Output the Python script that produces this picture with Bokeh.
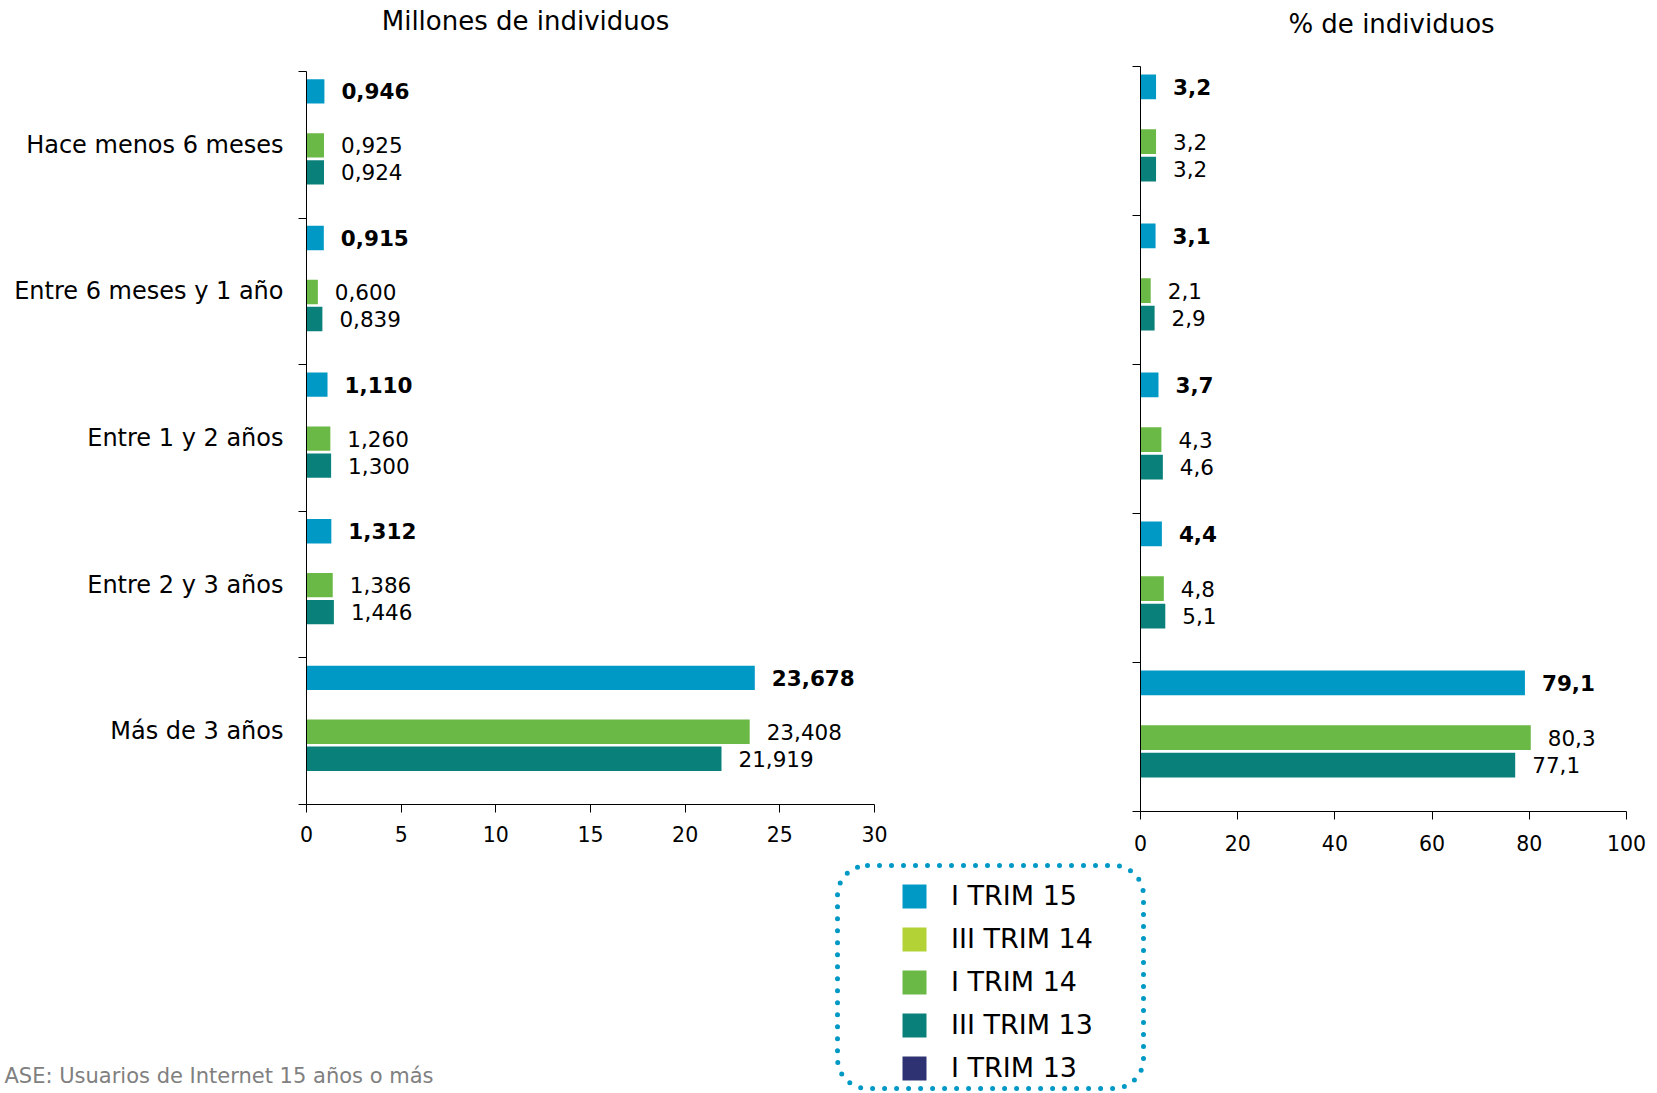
from bokeh.plotting import figure
from bokeh.models import (Range1d, FixedTicker, ColumnDataSource, Legend, LegendItem,
                          BoxAnnotation, Label)
from bokeh.transform import dodge
from bokeh.layouts import column, row
from bokeh.embed import file_html
from bokeh.resources import INLINE
from bokeh.core.properties import value

# ---------------- data ----------------
categories = ["Hace menos 6 meses", "Entre 6 meses y 1 año", "Entre 1 y 2 años",
              "Entre 2 y 3 años", "Más de 3 años"]
series = ["I TRIM 15", "III TRIM 14", "I TRIM 14", "III TRIM 13", "I TRIM 13"]
series_colors = ["#0099C6", "#B2D235", "#6AB845", "#0A807B", "#2E3272"]

millones_i_trim_15 = [0.946, 0.915, 1.110, 1.312, 23.678]
millones_iii_trim_14 = None
millones_i_trim_14 = [0.925, 0.600, 1.260, 1.386, 23.408]
millones_iii_trim_13 = [0.924, 0.839, 1.300, 1.446, 21.919]
millones_i_trim_13 = None

pct_i_trim_15 = [3.2, 3.1, 3.7, 4.4, 79.1]
pct_iii_trim_14 = None
pct_i_trim_14 = [3.2, 2.1, 4.3, 4.8, 80.3]
pct_iii_trim_13 = [3.2, 2.9, 4.6, 5.1, 77.1]
pct_i_trim_13 = None

millones_ticks = [0, 5, 10, 15, 20, 25, 30]
pct_ticks = [0, 20, 40, 60, 80, 100]

title_left = "Millones de individuos"
title_right = "% de individuos"
base_note = "ASE: Usuarios de Internet 15 años o más"

FONT = "DejaVu Sans"
SLOT = 0.184
BAR_H = 0.166
TOTAL_W = 1655


def no_align(p):
    if "frame_align" in p.properties():
        p.frame_align = False


def make_chart(values, decimals, xmax, xticks, width, b_left, b_right,
               b_top, frame_h, height, x_standoff, show_cats):
    p = figure(width=width, height=height, x_range=Range1d(0, xmax),
               y_range=Range1d(len(categories), 0), output_backend="svg",
               toolbar_location=None, title=None, min_border_left=b_left,
               min_border_right=b_right, min_border_top=b_top,
               min_border_bottom=height - b_top - frame_h)
    no_align(p)
    p.grid.visible = False
    p.outline_line_color = None
    p.background_fill_color = "white"
    p.border_fill_color = "white"

    # x axis
    xa = p.xaxis[0]
    xa.ticker = FixedTicker(ticks=xticks)
    xa.axis_line_color = "#000000"
    xa.major_tick_line_color = "#000000"
    xa.major_tick_in = 0
    xa.major_tick_out = 8
    xa.minor_tick_out = 0
    xa.minor_tick_in = 0
    xa.major_label_text_font = FONT
    xa.major_label_text_font_size = "20.5px"
    xa.major_label_text_color = "#000000"
    xa.major_label_standoff = x_standoff

    # y axis: labels at category centres, ticks at category boundaries
    centers = [i + 0.5 for i in range(len(categories))]
    bounds = list(range(len(categories) + 1))
    ya = p.yaxis[0]
    ya.axis_line_color = "#000000"
    ya.minor_tick_line_color = "#000000"
    ya.minor_tick_out = 8
    ya.minor_tick_in = 0
    ya.major_tick_in = 0
    if show_cats:
        ya.ticker = FixedTicker(ticks=centers, minor_ticks=bounds)
        ya.major_label_overrides = {c: lab for c, lab in zip(centers, categories)}
        ya.major_tick_line_color = None
        ya.major_tick_out = 8
        ya.major_label_standoff = 15
        ya.major_label_text_font = FONT
        ya.major_label_text_font_size = "24px"
        ya.major_label_text_color = "#000000"
    else:
        ya.ticker = FixedTicker(ticks=[], minor_ticks=bounds)
        ya.major_tick_out = 0

    for k, (name, col) in enumerate(zip(series, series_colors)):
        vals = values[k]
        if vals is None:
            continue
        src = ColumnDataSource(dict(
            pos=centers,
            val=vals,
            label=[f"{v:.{decimals}f}".replace(".", ",") for v in vals],
        ))
        off = (k - 2) * SLOT + 0.004
        p.hbar(y=dodge("pos", off), left=0, right="val", height=BAR_H, source=src,
               fill_color=col, line_color=None)
        p.text(x="val", y=dodge("pos", off), text="label", source=src,
               x_offset=17, text_baseline="middle", text_align="left",
               text_font=value(FONT), text_font_size=value("21.5px"),
               text_font_style="bold" if k == 0 else "normal",
               text_color="#000000")
    return p


def strip(height):
    f = figure(width=TOTAL_W, height=height, x_range=Range1d(0, TOTAL_W),
               y_range=Range1d(0, height), output_backend="svg",
               toolbar_location=None, min_border=0, title=None,
               x_axis_location=None, y_axis_location=None)
    no_align(f)
    f.grid.visible = False
    f.outline_line_color = None
    return f


# ---------------- top strip: titles ----------------
TOP_H = 50
top = strip(TOP_H)
top.add_layout(Label(x=525, y=30, text=title_left, text_align="center",
                     text_baseline="alphabetic", text_font=FONT,
                     text_font_size="26px", text_color="#000000"))
top.add_layout(Label(x=1391, y=27, text=title_right, text_align="center",
                     text_baseline="alphabetic", text_font=FONT,
                     text_font_size="26px", text_color="#000000"))

# ---------------- charts ----------------
ROW_H = 808

left = make_chart([millones_i_trim_15, millones_iii_trim_14, millones_i_trim_14,
                   millones_iii_trim_13, millones_i_trim_13],
                  3, 30, millones_ticks,
                  width=1000, b_left=306, b_right=126, b_top=21, frame_h=733,
                  height=ROW_H, x_standoff=13, show_cats=True)

right = make_chart([pct_i_trim_15, pct_iii_trim_14, pct_i_trim_14,
                    pct_iii_trim_13, pct_i_trim_13],
                   1, 100, pct_ticks,
                   width=TOTAL_W - 1000, b_left=140, b_right=TOTAL_W - 1000 - 140 - 486,
                   b_top=16, frame_h=745, height=ROW_H, x_standoff=15, show_cats=False)

# ---------------- bottom strip: legend + base note ----------------
BH = 233
bottom = strip(BH)

nan = float("nan")
items = []
for name, col in zip(series, series_colors):
    r = bottom.hbar(y=[nan], right=[nan], height=1, fill_color=col, line_color=None)
    items.append(LegendItem(label=name, renderers=[r]))

box_kwargs = dict(left=837, right=1143, top=BH - 7, bottom=3, fill_color=None,
                  fill_alpha=0, line_color="#0099C6", line_alpha=1.0, line_width=5,
                  line_dash="0 12", line_cap="round")
if "border_radius" in BoxAnnotation.properties():
    box_kwargs["border_radius"] = 30
bottom.add_layout(BoxAnnotation(**box_kwargs))

legend = Legend(items=items, location=(899, 8), padding=0, margin=0, spacing=12,
                glyph_width=30, glyph_height=30, label_standoff=22,
                label_text_font=FONT, label_text_font_size="27px",
                label_text_color="#000000", border_line_color=None,
                background_fill_alpha=0)
bottom.add_layout(legend)

bottom.add_layout(Label(x=4, y=16, text=base_note,
                        text_font=FONT, text_font_size="21px", text_color="#808080",
                        text_baseline="alphabetic"))

layout = column(top, row(left, right, spacing=0), bottom, spacing=0)

open("out.html", "w").write(file_html(layout, INLINE))
